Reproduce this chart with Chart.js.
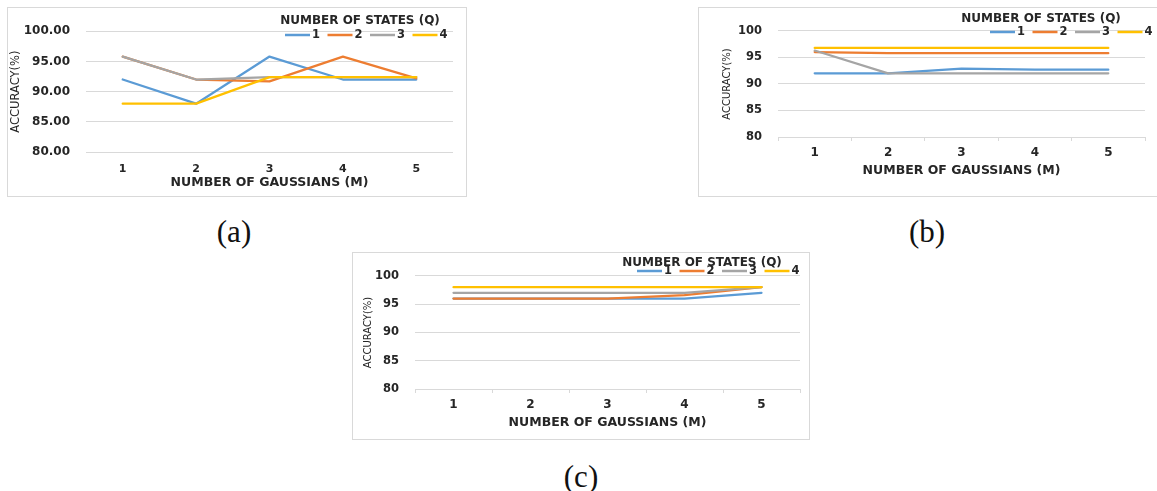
<!DOCTYPE html>
<html>
<head>
<meta charset="utf-8">
<script src="https://cdn.jsdelivr.net/npm/chart.js@4.4.1/dist/chart.umd.min.js"></script>
<style>
  body { margin: 0; background: #fff; width: 1157px; height: 491px; overflow: hidden; position: relative; }
  .panel { position: absolute; border: 1px solid #d9d9d9; background: #fff; }
  .panel canvas { display: block; }
  .cap { position: absolute; font-family: 'Liberation Serif', serif; font-size: 31px; color: #111;
         transform: translate(-50%, -50%); line-height: 1; }
</style>
</head>
<body>
<div class="panel" style="left:7px;top:7px;width:458px;height:188px"><canvas id="chartA" width="458" height="188"></canvas></div>
<div class="panel" style="left:698px;top:7px;width:458px;height:188px"><canvas id="chartB" width="458" height="188"></canvas></div>
<div class="panel" style="left:352px;top:252px;width:456px;height:186px"><canvas id="chartC" width="456" height="186"></canvas></div>
<div class="cap" style="left:234px;top:231px">(a)</div>
<div class="cap" style="left:927px;top:231px">(b)</div>
<div class="cap" style="left:581px;top:476px">(c)</div>

<script>
/* ---------- Data ---------- */
const gaussians = ['1', '2', '3', '4', '5'];
const states = ['1', '2', '3', '4'];
const yTicks = [80, 85, 90, 95, 100];

const accA_q1 = [92, 88, 95.8, 92, 92];
const accA_q2 = [95.8, 92, 91.7, 95.8, 92.2];
const accA_q3 = [95.8, 92, 92.4, 92.4, 92.4];
const accA_q4 = [88, 88, 92.4, 92.4, 92.4];

const accB_q1 = [92, 92, 92.9, 92.7, 92.7];
const accB_q2 = [96, 95.8, 95.8, 95.8, 95.8];
const accB_q3 = [96.3, 92, 92, 92, 92];
const accB_q4 = [96.8, 96.8, 96.8, 96.8, 96.8];

const accC_q1 = [96, 96, 96, 96, 97];
const accC_q2 = [96, 96, 96, 96.6, 98];
const accC_q3 = [97, 97, 97, 97, 98];
const accC_q4 = [98, 98, 98, 98, 98];

/* ---------- Styles ---------- */
const lineColors = ['#5B9BD5', '#ED7D31', '#A5A5A5', '#FFC000'];
const gridColor = '#d9d9d9';
const textColor = '#262626';
const FONT = "'DejaVu Sans', sans-serif";

/* legend drawn from the datasets, sitting over the top right of the plot */
const stateLegend = {
  id: 'stateLegend',
  afterDraw(chart, args, opts) {
    const ctx = chart.ctx;
    ctx.save();
    ctx.fillStyle = textColor;
    ctx.font = `bold 12px ${FONT}`;
    ctx.textBaseline = 'middle';
    ctx.textAlign = 'center';
    ctx.fillText('NUMBER OF STATES (Q)', opts.titleX, opts.titleY);
    ctx.textAlign = 'left';
    ctx.font = `bold 11.5px ${FONT}`;
    let x = opts.itemX;
    chart.data.datasets.forEach(ds => {
      ctx.strokeStyle = ds.borderColor;
      ctx.lineWidth = 2.5;
      ctx.beginPath();
      ctx.moveTo(x, opts.itemY);
      ctx.lineTo(x + 25, opts.itemY);
      ctx.stroke();
      ctx.fillText(ds.label, x + 27, opts.itemY + 0.5);
      x += 42.5;
    });
    ctx.restore();
  }
};

function makeChart(id, series, c) {
  return new Chart(document.getElementById(id), {
    type: 'line',
    data: {
      labels: gaussians,
      datasets: series.map((vals, i) => ({
        label: states[i],
        data: vals,
        borderColor: lineColors[i],
        backgroundColor: lineColors[i],
        borderWidth: 2.25,
        borderJoinStyle: 'round',
        borderCapStyle: 'round',
        pointRadius: 0,
        tension: 0,
        order: series.length - i
      }))
    },
    options: {
      responsive: false,
      animation: false,
      layout: { padding: { top: c.padTop, right: c.padRight, left: 0, bottom: 0 } },
      plugins: {
        legend: { display: false },
        tooltip: { enabled: false },
        stateLegend: c.legend
      },
      scales: {
        x: {
          offset: true,
          grid: { display: c.xTicks, drawOnChartArea: false, drawTicks: true, tickLength: 4, color: gridColor, offset: true },
          border: { display: false },
          ticks: { color: textColor, font: { family: FONT, size: c.xTickSize, weight: 'bold' }, padding: c.xTickPad },
          title: {
            display: true, text: 'NUMBER OF GAUSSIANS (M)', color: textColor,
            font: { family: FONT, size: 12.5, weight: 'bold' },
            padding: { top: 0, bottom: c.xTitlePad }
          },
          afterFit: s => { s.height = c.xHeight; }
        },
        y: {
          min: 80, max: 100,
          afterBuildTicks: s => { s.ticks = yTicks.map(v => ({ value: v })); },
          grid: { color: gridColor, drawTicks: false, lineWidth: 1 },
          border: { display: false },
          ticks: {
            color: textColor, padding: c.yTickPad,
            font: { family: FONT, size: c.yTickSize, weight: 'bold' },
            callback: v => v.toFixed(c.decimals)
          },
          title: {
            display: true, text: 'ACCURACY(%)', color: textColor,
            font: { family: FONT, size: c.yTitleSize },
            padding: { top: c.yTitlePad, bottom: 0 }
          },
          afterFit: s => { s.width = c.yWidth; }
        }
      }
    },
    plugins: [stateLegend]
  });
}

makeChart('chartA', [accA_q1, accA_q2, accA_q3, accA_q4], {
  padTop: 23, padRight: 13, yWidth: 78, xHeight: 44, decimals: 2,
  yTickSize: 12, yTickPad: 16, yTitleSize: 11.5, yTitlePad: 1,
  xTicks: false, xTickSize: 11, xTickPad: 7, xTitlePad: 6,
  legend: { titleX: 352, titleY: 13, itemX: 277, itemY: 27 }
});

makeChart('chartB', [accB_q1, accB_q2, accB_q3, accB_q4], {
  padTop: 19, padRight: 12, yWidth: 79, xHeight: 59, decimals: 0,
  yTickSize: 11.5, yTickPad: 16, yTitleSize: 10, yTitlePad: 22,
  xTicks: true, xTickSize: 12, xTickPad: 5, xTitlePad: 18,
  legend: { titleX: 342, titleY: 11, itemX: 291, itemY: 24 }
});

makeChart('chartC', [accC_q1, accC_q2, accC_q3, accC_q4], {
  padTop: 14, padRight: 9, yWidth: 62, xHeight: 50, decimals: 0,
  yTickSize: 11.5, yTickPad: 16, yTitleSize: 10, yTitlePad: 9,
  xTicks: true, xTickSize: 12, xTickPad: 5, xTitlePad: 9,
  legend: { titleX: 349, titleY: 10, itemX: 284, itemY: 18 }
});
</script>
</body>
</html>
